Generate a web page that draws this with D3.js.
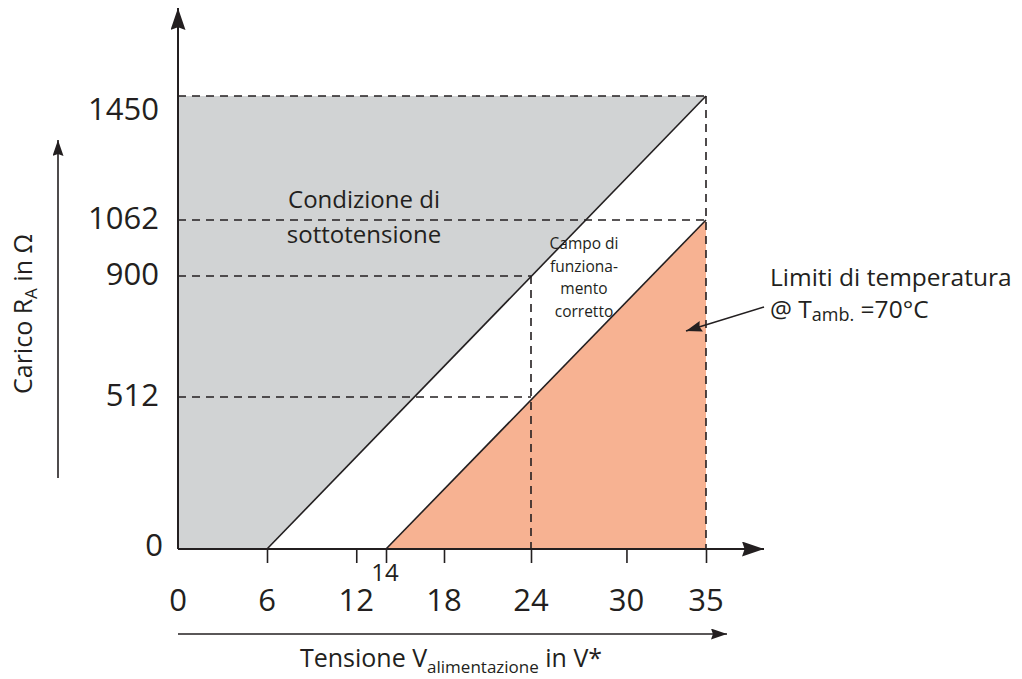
<!DOCTYPE html>
<html>
<head>
<meta charset="utf-8">
<script src="https://cdn.jsdelivr.net/npm/d3@7"></script>
<style>
  body { margin: 0; background: #fff; }
  svg text { font-family: "Open Sans", "DejaVu Sans", sans-serif; fill: #231f20; }
</style>
</head>
<body>
<svg id="chart" width="1022" height="679"></svg>
<script>
// Supply voltage (V) and load (ohm) values
const xTicks = [0, 6, 12, 18, 24, 30, 35];
const xMinorTick = 14;
const yTicks = [0, 512, 900, 1062, 1450];

// Under-voltage boundary: R = 50 * (V - 6)
const underVoltage = [[6, 0], [35, 1450]];
// Temperature limit boundary @ 70 degC
const tempLimit = [[14, 0], [35, 1062]];
// Reference lines (dashed)
const guideLines = [
  [[0, 1450], [35, 1450]],
  [[35, 1450], [35, 0]],
  [[0, 1062], [35, 1062]],
  [[0, 900], [24, 900]],
  [[0, 512], [24, 512]],
  [[24, 900], [24, 0]]
];

const GRAY = "#d1d3d4";
const ORANGE = "#f7b292";
const INK = "#231f20";

const svg = d3.select("#chart");

// The printed diagram is not drawn strictly to scale, so the scales are piecewise
const x = d3.scaleLinear()
  .domain([0, 6, 14, 24, 35])
  .range([178, 267, 386, 531, 706]);
const y = d3.scaleLinear()
  .domain([0, 512, 900, 1062, 1450])
  .range([549, 397, 276, 220, 96]);

const line = d3.line().x(d => x(d[0])).y(d => y(d[1]));

// arrowhead marker
const defs = svg.append("defs");
function marker(id, w, h) {
  defs.append("marker")
    .attr("id", id)
    .attr("viewBox", "0 0 " + w + " " + h)
    .attr("refX", w).attr("refY", h / 2)
    .attr("markerWidth", w).attr("markerHeight", h)
    .attr("markerUnits", "userSpaceOnUse")
    .attr("orient", "auto")
    .append("path")
    .attr("d", "M0,0 L" + w + "," + (h / 2) + " L0," + h + " L" + (w * 0.12) + "," + (h / 2) + " Z")
    .attr("fill", INK);
}
marker("arrowBig", 22, 15);
marker("arrowSmall", 16, 11);

// areas
const grayArea = [[0, 0], [0, 1450], underVoltage[1], underVoltage[0]];
svg.append("path")
  .attr("d", line(grayArea) + "Z")
  .attr("fill", GRAY);

const orangeArea = [tempLimit[0], tempLimit[1], [35, 0]];
svg.append("path")
  .attr("d", line(orangeArea) + "Z")
  .attr("fill", ORANGE);

// dashed guides
svg.append("g")
  .selectAll("path")
  .data(guideLines)
  .join("path")
  .attr("d", line)
  .attr("fill", "none")
  .attr("stroke", INK)
  .attr("stroke-width", 1.6)
  .attr("stroke-dasharray", "8,6");

// boundaries
svg.append("g")
  .selectAll("path")
  .data([underVoltage, tempLimit])
  .join("path")
  .attr("d", line)
  .attr("fill", "none")
  .attr("stroke", INK)
  .attr("stroke-width", 1.6);

// x axis
const xAxis = d3.axisBottom(x)
  .tickValues(xTicks.filter(d => d > 0).concat([xMinorTick]))
  .tickSize(14)
  .tickFormat("");
const gx = svg.append("g")
  .attr("transform", "translate(0," + y(0) + ")")
  .call(xAxis);
gx.select(".domain").remove();
gx.selectAll(".tick line").attr("stroke", INK).attr("stroke-width", 1.6);

svg.append("line")
  .attr("x1", x(0)).attr("x2", 764)
  .attr("y1", y(0)).attr("y2", y(0))
  .attr("stroke", INK).attr("stroke-width", 2)
  .attr("marker-end", "url(#arrowBig)");

svg.append("g")
  .selectAll("text")
  .data(xTicks)
  .join("text")
  .attr("x", d => x(d))
  .attr("y", 611)
  .attr("text-anchor", "middle")
  .attr("font-size", 31)
  .text(d => d);

svg.append("text")
  .attr("x", x(xMinorTick) - 1)
  .attr("y", 581)
  .attr("text-anchor", "middle")
  .attr("font-size", 24)
  .text(xMinorTick);

// y axis
svg.append("line")
  .attr("x1", x(0)).attr("x2", x(0))
  .attr("y1", y(0)).attr("y2", 8)
  .attr("stroke", INK).attr("stroke-width", 2)
  .attr("marker-end", "url(#arrowBig)");

// label offsets as printed (top label sits below its guide)
function yLabelPos(d) {
  if (d === 1450) return y(d) + 13;
  if (d === 0) return y(d) - 4;
  return y(d) - 2;
}
svg.append("g")
  .selectAll("text")
  .data(yTicks)
  .join("text")
  .attr("x", d => d === 0 ? 163 : 159)
  .attr("y", yLabelPos)
  .attr("dy", "0.35em")
  .attr("text-anchor", "end")
  .attr("font-size", 31)
  .text(d => d);

// axis titles
const yTitle = svg.append("text")
  .attr("transform", "translate(32,314) rotate(-90)")
  .attr("text-anchor", "middle")
  .attr("font-size", 25);
yTitle.append("tspan").text("Carico R");
yTitle.append("tspan").attr("font-size", 17).attr("dy", 5).text("A");
yTitle.append("tspan").attr("dy", -5).text(" in Ω");

svg.append("line")
  .attr("x1", 58).attr("x2", 58)
  .attr("y1", 478).attr("y2", 140)
  .attr("stroke", INK).attr("stroke-width", 1.6)
  .attr("marker-end", "url(#arrowSmall)");

const xTitle = svg.append("text")
  .attr("x", 451).attr("y", 667)
  .attr("text-anchor", "middle")
  .attr("font-size", 25);
xTitle.append("tspan").text("Tensione V");
xTitle.append("tspan").attr("font-size", 17).attr("dy", 6).text("alimentazione");
xTitle.append("tspan").attr("dy", -6).text(" in V*");

svg.append("line")
  .attr("x1", x(0)).attr("x2", 727)
  .attr("y1", 634).attr("y2", 634)
  .attr("stroke", INK).attr("stroke-width", 1.6)
  .attr("marker-end", "url(#arrowSmall)");

// region labels
svg.append("g")
  .selectAll("text")
  .data(["Condizione di", "sottotensione"])
  .join("text")
  .attr("x", 364)
  .attr("y", (d, i) => 208 + i * 35)
  .attr("text-anchor", "middle")
  .attr("font-size", 24)
  .text(d => d);

svg.append("g")
  .selectAll("text")
  .data(["Campo di", "funziona-", "mento", "corretto"])
  .join("text")
  .attr("x", 584)
  .attr("y", (d, i) => 249 + i * 22.5)
  .attr("text-anchor", "middle")
  .attr("font-size", 15.5)
  .text(d => d);

// temperature annotation
svg.append("text")
  .attr("x", 770).attr("y", 286)
  .attr("font-size", 24.5)
  .text("Limiti di temperatura");
const note = svg.append("text")
  .attr("x", 770).attr("y", 318)
  .attr("font-size", 24.5);
note.append("tspan").text("@ T");
note.append("tspan").attr("font-size", 18).attr("dy", 3).text("amb.");
note.append("tspan").attr("dy", -3).text(" =70°C");

svg.append("line")
  .attr("x1", 764).attr("y1", 307)
  .attr("x2", 686).attr("y2", 331)
  .attr("stroke", INK).attr("stroke-width", 1.6)
  .attr("marker-end", "url(#arrowSmall)");
</script>
</body>
</html>
